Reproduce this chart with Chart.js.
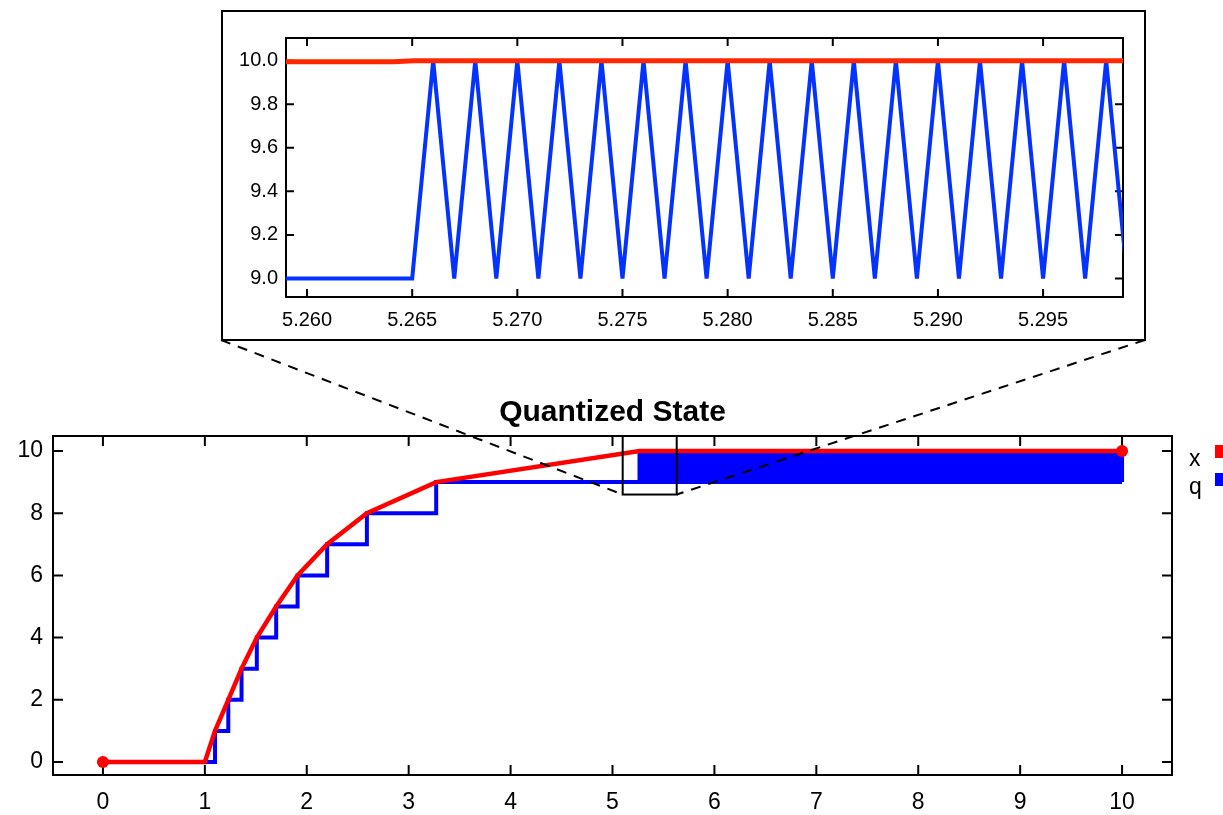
<!DOCTYPE html>
<html>
<head>
<meta charset="utf-8">
<title>Quantized State</title>
<script src="https://cdn.jsdelivr.net/npm/chart.js@4"></script>
<style>
  html, body { margin: 0; padding: 0; background: #fff; }
  #wrap { position: relative; width: 1223px; height: 815px; overflow: hidden; background: #fff; }
  #mainChart { position: absolute; left: 0; top: 0; }
  #zoomChart { position: absolute; left: 221px; top: 10px; background: #fff; }
</style>
</head>
<body>
<div id="wrap">
  <canvas id="mainChart" width="1223" height="815"></canvas>
  <canvas id="zoomChart" width="925" height="331"></canvas>
</div>
<script>
const $ = s => document.querySelector(s);
const RED = '#ff0000', BLUE = '#0000ff';
const Z_RED = '#ff2600', Z_BLUE = '#0433ff';

// x(t): linear between quantization events
const T_X = [0, 1, 1.1, 1.23, 1.36, 1.51, 1.70, 1.91, 2.20, 2.59, 3.27, 5.265, 10];
const X_VAL = [0, 0, 1, 2, 3, 4, 5, 6, 7, 8, 9, 10, 10];
// q(t): steps
const T_Q = [0, 1.1, 1.23, 1.36, 1.51, 1.70, 1.91, 2.20, 2.59, 3.27, 10];
const Q_VAL = [0, 1, 2, 3, 4, 5, 6, 7, 8, 9, 9];
// q chattering between 9 and 10 after t = 5.265
const BAND_T = [5.265, 10];
const BAND_LO = 9, BAND_HI = 10;
const X_TICKS = [0, 1, 2, 3, 4, 5, 6, 7, 8, 9, 10];
const Y_TICKS = [0, 2, 4, 6, 8, 10];

// detail window
const Z_T_X = [5.25, 5.2641, 5.2651, 5.30];
const Z_X = [9.995, 9.995, 10, 10];
const Z_T_Q = [5.250, 5.265, 5.266, 5.267, 5.268, 5.269, 5.270, 5.271, 5.272, 5.273, 5.274, 5.275,
  5.276, 5.277, 5.278, 5.279, 5.280, 5.281, 5.282, 5.283, 5.284, 5.285, 5.286, 5.287, 5.288,
  5.289, 5.290, 5.291, 5.292, 5.293, 5.294, 5.295, 5.296, 5.297, 5.298, 5.299];
const Z_Q = [9, 9, 10, 9, 10, 9, 10, 9, 10, 9, 10, 9,
  10, 9, 10, 9, 10, 9, 10, 9, 10, 9, 10, 9, 10,
  9, 10, 9, 10, 9, 10, 9, 10, 9, 10, 9];
const Z_XTICKS = [5.260, 5.265, 5.270, 5.275, 5.280, 5.285, 5.290, 5.295];
const Z_YTICKS = [9.0, 9.2, 9.4, 9.6, 9.8, 10.0];

// region marked on the main plot
const BOX_T = [5.10, 5.63];
const BOX_Y = 8.6;

Chart.defaults.font.family = '"Liberation Sans", Arial, Helvetica, sans-serif';
Chart.defaults.color = '#000';

const pts = (xs, ys) => xs.map((x, i) => ({ x, y: ys[i] }));

// box + inward ticks on all four sides
const framePlugin = {
  id: 'frame',
  beforeDraw(chart, args, opts) {
    if (!opts.outer) return;
    const { ctx, width, height } = chart;
    ctx.save(); ctx.strokeStyle = '#000'; ctx.lineWidth = 2;
    ctx.strokeRect(1, 1, width - 2, height - 2);
    ctx.restore();
  },
  beforeDatasetsDraw(chart, args, opts) {
    const { ctx, chartArea: a, scales: { x, y } } = chart;
    const L = opts.tick || 10;
    ctx.save();
    ctx.strokeStyle = '#000'; ctx.lineWidth = 2;
    ctx.beginPath();
    x.ticks.forEach(t => {
      const p = x.getPixelForValue(t.value);
      ctx.moveTo(p, a.bottom); ctx.lineTo(p, a.bottom - L);
      ctx.moveTo(p, a.top); ctx.lineTo(p, a.top + L);
    });
    y.ticks.forEach(t => {
      const p = y.getPixelForValue(t.value);
      ctx.moveTo(a.left, p); ctx.lineTo(a.left + L, p);
      ctx.moveTo(a.right, p); ctx.lineTo(a.right - L, p);
    });
    ctx.stroke();
    ctx.strokeRect(a.left, a.top, a.right - a.left, a.bottom - a.top);
    ctx.restore();
  }
};

// zoom box, dashed leaders to the detail window, and the key on the right
const zoomMarkPlugin = {
  id: 'zoomMark',
  afterDatasetsDraw(chart) {
    const { ctx, chartArea: a, scales: { x, y } } = chart;
    const l = x.getPixelForValue(BOX_T[0]), r = x.getPixelForValue(BOX_T[1]), b = y.getPixelForValue(BOX_Y);
    ctx.save();
    ctx.strokeStyle = '#000'; ctx.lineWidth = 2;
    ctx.strokeRect(l, a.top, r - l, b - a.top);
    const el = $('#zoomChart');
    const il = el.offsetLeft, ir = el.offsetLeft + el.width - 1, ib = el.offsetTop + el.height - 1;
    ctx.setLineDash([10, 8]);
    ctx.beginPath();
    ctx.moveTo(il, ib); ctx.lineTo(l, b);
    ctx.moveTo(ir, ib); ctx.lineTo(r, b);
    ctx.stroke();
    ctx.setLineDash([]);

    ctx.font = '23px "Liberation Sans", Arial, sans-serif';
    ctx.textAlign = 'left'; ctx.textBaseline = 'alphabetic';
    const keys = [{ t: 'x', c: RED, dy: 0 }, { t: 'q', c: BLUE, dy: 28 }];
    keys.forEach(k => {
      ctx.fillStyle = '#000';
      ctx.fillText(k.t, a.right + 17, a.top + 30 + k.dy);
      ctx.fillStyle = k.c;
      ctx.fillRect(a.right + 43, a.top + 9 + k.dy, 14, 13);
    });
    ctx.restore();
  }
};

const axis = (min, max, ticks, fmt, size, pad, fit) => ({
  type: 'linear', min, max,
  afterBuildTicks: s => { s.ticks = ticks.map(v => ({ value: v })); },
  afterFit: fit,
  grid: { display: false, drawTicks: false },
  border: { display: false },
  ticks: { font: { size }, padding: pad, maxRotation: 0, autoSkip: false, callback: fmt }
});

new Chart($('#mainChart'), {
  type: 'line',
  data: {
    datasets: [
      { label: 'ends', data: [pts(T_X, X_VAL)[0], pts(T_X, X_VAL).at(-1)], showLine: false,
        pointRadius: 6, pointBackgroundColor: RED, pointBorderWidth: 0 },
      { label: 'x', data: pts(T_X, X_VAL), borderColor: RED, borderWidth: 4.5, pointRadius: 0 },
      { label: 'q band', data: [{ x: BAND_T[0], y: BAND_LO }, { x: BAND_T[0], y: BAND_HI }, { x: BAND_T[1], y: BAND_HI }, { x: BAND_T[1], y: BAND_LO }],
        borderColor: BLUE, backgroundColor: BLUE, borderWidth: 4, fill: { value: BAND_LO }, pointRadius: 0 },
      { label: 'q', data: pts(T_Q, Q_VAL), stepped: 'before', borderColor: BLUE, borderWidth: 4, pointRadius: 0 },
    ]
  },
  options: {
    responsive: false, animation: false, events: [],
    layout: { padding: { top: 395, right: 51, left: 0, bottom: 0 } },
    scales: {
      x: axis(-0.49, 10.49, X_TICKS, v => String(v), 23, 14, s => { s.height = 40; }),
      y: axis(-0.418, 10.482, Y_TICKS, v => String(v), 23, 10, s => { s.width = 53; }),
    },
    plugins: {
      legend: { display: false }, tooltip: { enabled: false },
      title: { display: true, text: 'Quantized State', fullSize: false, color: '#000',
        font: { size: 30, weight: 'bold' }, padding: { top: 0, bottom: 5 } },
      frame: { tick: 10 },
    }
  },
  plugins: [framePlugin, zoomMarkPlugin]
});

new Chart($('#zoomChart'), {
  type: 'line',
  data: {
    datasets: [
      { label: 'x', data: pts(Z_T_X, Z_X), borderColor: Z_RED, borderWidth: 5, pointRadius: 0 },
      { label: 'q', data: pts(Z_T_Q, Z_Q), borderColor: Z_BLUE, borderWidth: 4, pointRadius: 0 },
    ]
  },
  options: {
    responsive: false, animation: false, events: [],
    layout: { padding: { top: 28, right: 23, left: 0, bottom: 0 } },
    scales: {
      x: axis(5.259, 5.2988, Z_XTICKS, v => v.toFixed(3), 20, 11, s => { s.height = 44; }),
      y: axis(8.915, 10.104, Z_YTICKS, v => v.toFixed(1), 20, 8, s => { s.width = 65; }),
    },
    plugins: { legend: { display: false }, tooltip: { enabled: false }, frame: { tick: 8, outer: true } }
  },
  plugins: [framePlugin]
});
</script>
</body>
</html>
